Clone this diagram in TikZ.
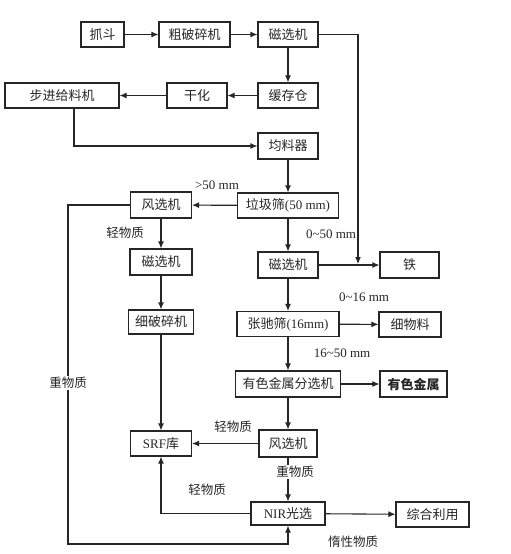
\documentclass[tikz,border=0pt]{standalone}
\usepackage{fontspec}
\setmainfont{Noto Sans CJK SC}
\newfontfamily\tnr{Liberation Serif}
\usetikzlibrary{arrows.meta, calc}
\tikzset{
	box/.style={rectangle, draw=black!85, line width=1.1pt, minimum height=25pt, inner sep=0pt, text=black!85, font=\fontsize{13}{15}\selectfont},
	tag/.style={inner sep=1pt, text=black!85, font=\fontsize{12.5}{14}\selectfont},
	arrow/.style={-{Latex[length=7pt, width=6pt]}, line width=1.1pt, draw=black!85},
}

\begin{document}
\begin{tikzpicture}[x=1pt, y=-1pt]
		\useasboundingbox (0,0) rectangle (511,554);
		% top rows
		\node[box, minimum width=43pt] (grab) at (102.5,34.5) {抓斗};
		\node[box, minimum width=71pt] (coarse) at (194.5,34.5) {粗破碎机};
		\node[box, minimum width=60pt] (magA) at (288,34.5) {磁选机};
		\node[box, minimum width=60pt] (buffer) at (288,95.5) {缓存仓};
		\node[box, minimum width=60pt] (dry) at (197,95.5) {干化};
		\node[box, minimum width=114pt] (feeder) at (62,95.5) {步进给料机};
		\node[box, minimum width=60pt, minimum height=26pt] (mixer) at (288,146) {均料器};
		% main column
		\node[box, minimum width=101pt] (screen) at (288,205.5) {垃圾筛{\tnr(50 mm)}};
		\node[box, minimum width=60pt, minimum height=26pt] (magB) at (288,265) {磁选机};
		\node[box, minimum width=102pt] (tension) at (288,324) {张驰筛{\tnr(16mm)}};
		\node[box, minimum width=105pt, minimum height=26pt] (nonfer) at (288,384) {有色金属分选机};
		\node[box, minimum width=58pt, minimum height=27pt] (airB) at (288,443.5) {风选机};
		\node[box, minimum width=74pt, minimum height=23pt] (nir) at (288,513.5) {{\tnr NIR}光选};
		% right column
		\node[box, minimum width=59pt, minimum height=26pt] (iron) at (409.5,265) {铁};
		\node[box, minimum width=62pt] (finemat) at (410,324.5) {细物料};
		\node[box, minimum width=67pt, minimum height=26pt] (metal) at (413.5,384) {\textbf{有色金属}};
		\node[box, minimum width=73pt] (reuse) at (432.5,514.5) {综合利用};
		% left column
		\node[box, minimum width=61pt, minimum height=26pt] (airA) at (161,205) {风选机};
		\node[box, minimum width=62pt, minimum height=26pt] (magC) at (161,262) {磁选机};
		\node[box, minimum width=65pt, minimum height=24pt] (fine) at (161,322) {细破碎机};
		\node[box, minimum width=61pt] (srf) at (161,443.5) {{\tnr SRF}库};
		\coordinate (ironjoin) at (358,264);
		\coordinate (heavy) at (68,544);
		% connectors
		\draw[arrow] (grab) -- (coarse);
		\draw[arrow] (coarse) -- (magA);
		\draw[arrow] (magA) -- (buffer);
		\draw[arrow] (magA) -| (ironjoin);
		\draw[arrow] (buffer) -- (dry);
		\draw[arrow] (dry) -- (feeder);
		\draw[arrow] ([xshift=12pt]feeder.south) |- (mixer);
		\draw[arrow] (mixer) -- (screen);
		\draw[arrow] (screen) -- (airA);
		\draw[arrow] (screen) -- (magB);
		\draw[arrow] (magB) -- (iron);
		\draw[arrow] (magB) -- (tension);
		\draw[arrow] (tension) -- (finemat);
		\draw[arrow] (tension) -- (nonfer);
		\draw[arrow] (nonfer) -- (metal);
		\draw[arrow] (nonfer) -- (airB);
		\draw[arrow] (airB) -- (srf);
		\draw[arrow] (airB) -- (nir);
		\draw[arrow] (nir) -| (srf);
		\draw[arrow] (nir) -- (reuse);
		\draw[arrow] (airA) -- (magC);
		\draw[arrow] (magC) -- (fine);
		\draw[arrow] (fine) -- (srf);
		\draw[arrow] (airA) -| (heavy) -| (nir);
		% labels
		\node[tag, font=\tnr\fontsize{13}{15}\selectfont] at (217,185) {>50 mm};
		\node[tag, font=\tnr\fontsize{13}{15}\selectfont] at (331,234) {0\textasciitilde50 mm};
		\node[tag, font=\tnr\fontsize{13}{15}\selectfont] at (364,297) {0\textasciitilde16 mm};
		\node[tag, font=\tnr\fontsize{13}{15}\selectfont] at (342,353) {16\textasciitilde50 mm};
		\node[tag] at (125,233) {轻物质};
		\node[tag, fill=white] at (68,383) {重物质};
		\node[tag] at (233,427) {轻物质};
		\node[tag, fill=white] at (295,472) {重物质};
		\node[tag] at (207,490) {轻物质};
		\node[tag] at (353,542) {惰性物质};
	\end{tikzpicture}
\end{document}
